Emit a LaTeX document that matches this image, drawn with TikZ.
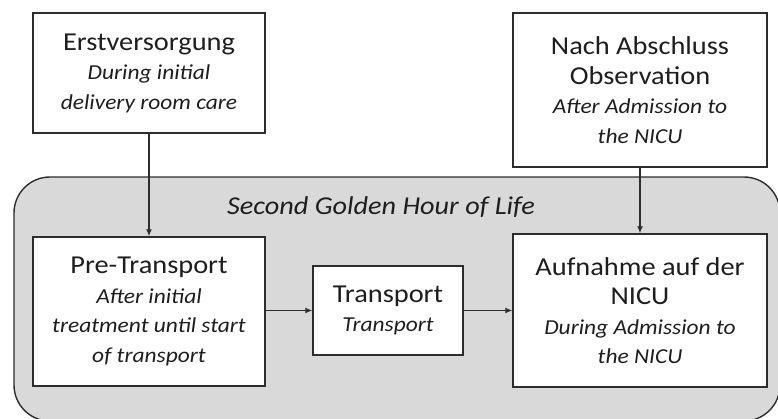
\documentclass[tikz,border=0pt]{standalone}
\usepackage{fontspec}
\setmainfont{Carlito}[FakeStretch=1.1]
\usetikzlibrary{arrows.meta}
\definecolor{framegrey}{RGB}{217,217,217}
\definecolor{inkline}{RGB}{45,45,45}
\definecolor{inktext}{RGB}{30,30,30}
\newcommand{\subline}[1]{{\fontsize{21.3}{29.5}\selectfont\itshape #1}}
\tikzset{
  stage/.style={draw=inkline, fill=white, line width=1.4pt, inner sep=0pt,
    align=center, text=inktext, font=\fontsize{25.8}{29.5}\selectfont},
  frame/.style={draw=inkline, fill=framegrey, line width=1.4pt, rounded corners=36pt,
    inner sep=0pt},
  flow/.style={draw=inkline, line width=1.3pt, -{Latex[length=7pt,width=6pt]}},
}
\begin{document}
\begin{tikzpicture}[x=1pt,y=-1pt]
\useasboundingbox (0,0) rectangle (778,418);
% shaded period around the transfer stages
\node[frame, minimum width=766pt, minimum height=244pt] (golden) at (397,299) {};
\node[text=inktext, font=\fontsize{25.7}{29.5}\selectfont\itshape] (title) at (381,207) {Second Golden Hour of Life};

% stages
\node[stage, minimum width=232pt, minimum height=120pt] (erst) at (149,73)
  {Erstversorgung\\ \subline{During initial}\\ \subline{delivery room care}};
\node[stage, minimum width=254pt, minimum height=154pt] (nach) at (640,90)
  {Nach Abschluss\\ Observation\\ \subline{After Admission to}\\ \subline{the NICU}};
\node[stage, minimum width=232pt, minimum height=149pt] (pre) at (149,311.5)
  {Pre-Transport\\ \subline{After initial}\\ \subline{treatment until start}\\ \subline{of transport}};
\node[stage, minimum width=150pt, minimum height=89pt] (trans) at (388,310.5)
  {Transport\\ \subline{Transport}};
\node[stage, minimum width=254pt, minimum height=153pt] (auf) at (640,310.5)
  {Aufnahme auf der\\ NICU\\ \subline{During Admission to}\\ \subline{the NICU}};

% connectors
\draw[flow] (erst.south) -- (pre.north);
\draw[flow] (nach.south) -- (auf.north);
\draw[flow] (pre.east |- trans.west) -- (trans.west);
\draw[flow] (trans.east) -- (auf.west |- trans.east);
\end{tikzpicture}
\end{document}
